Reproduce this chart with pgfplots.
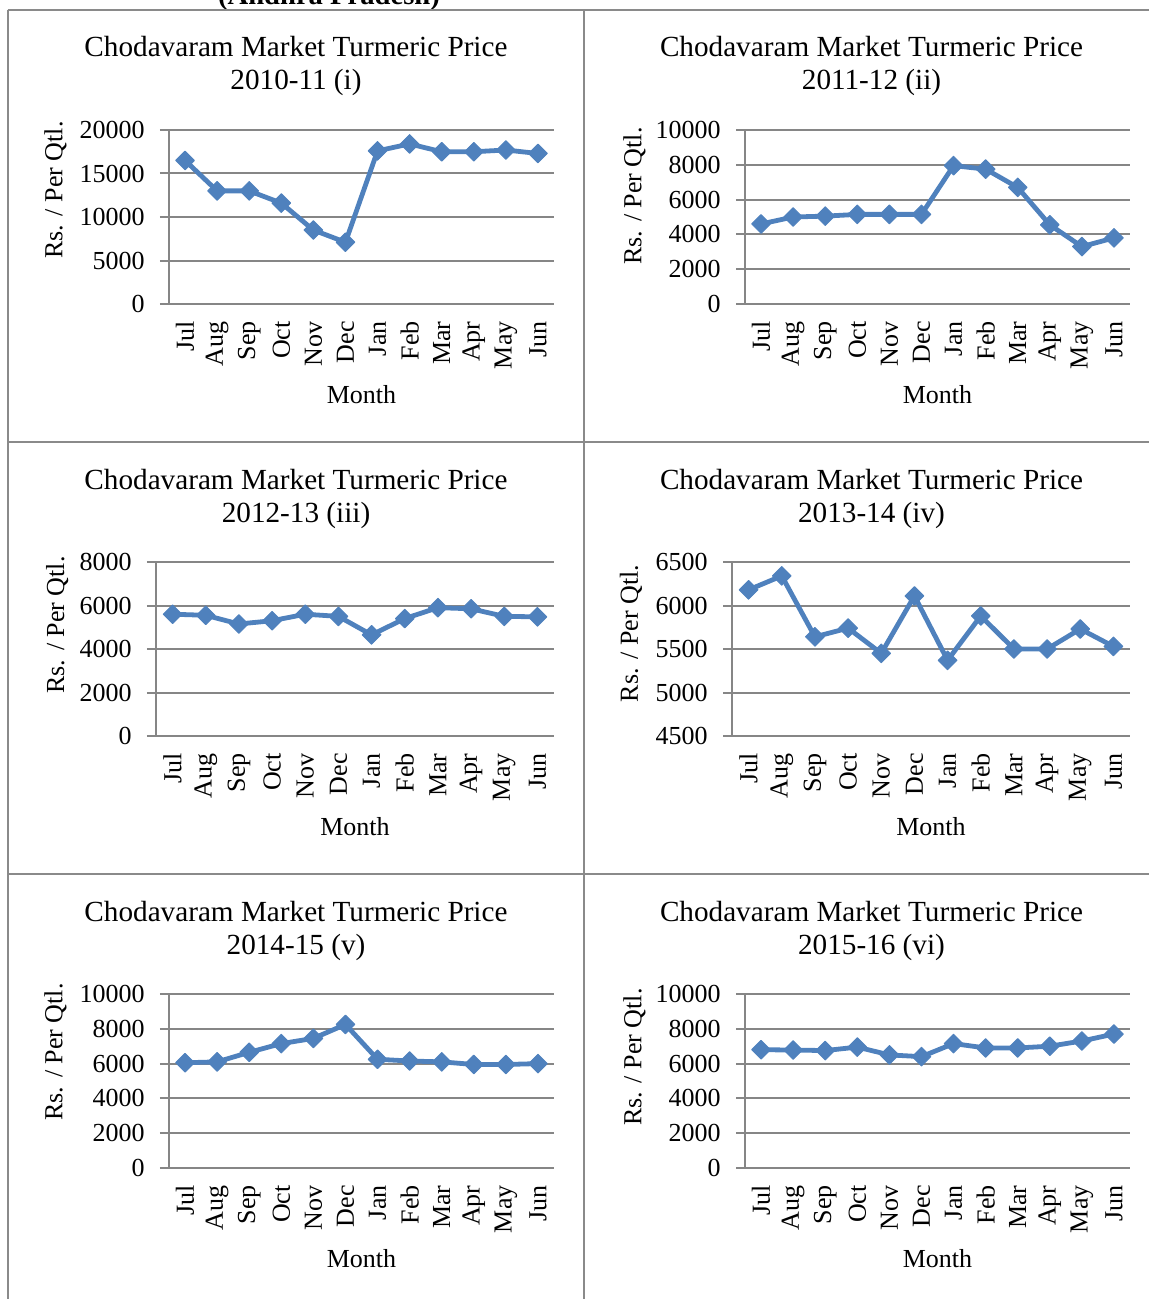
\documentclass[border=0pt]{standalone}
\usepackage{fontspec}
\setmainfont{Liberation Serif}
\usepackage{pgfplots}
\pgfplotsset{compat=1.18}

\definecolor{serieblue}{RGB}{79,129,189}
\definecolor{gridgray}{RGB}{134,134,134}
\definecolor{rulegray}{RGB}{138,138,138}

\newcommand{\titlefont}{\fontsize{14.6}{17}\selectfont}
\newcommand{\labelfont}{\fontsize{13}{15}\selectfont}

\pgfplotsset{
  panel/.style={
    scale only axis,
    height=87pt,
    xmin=-0.5, xmax=11.5,
    xtick={0,...,11},
    xticklabels={Jul,Aug,Sep,Oct,Nov,Dec,Jan,Feb,Mar,Apr,May,Jun},
    axis x line*=bottom, axis y line*=left,
    axis line style={-, draw=gridgray, line width=1pt},
    ymajorgrids,
    grid style={draw=gridgray, line width=1pt},
    tick align=outside, major tick length=4.5pt,
    xtick style={draw=none},
    ytick style={draw=gridgray, line width=1pt},
    tick label style={font=\labelfont, text=black},
    xticklabel style={rotate=90, anchor=east, inner sep=0pt},
    yticklabel style={anchor=east, inner sep=0pt},
    xticklabel shift=4pt,
    yticklabel shift=7.5pt,
    scaled y ticks=false,
    /pgf/number format/assume math mode=true,
    /pgf/number format/1000 sep={},
    xlabel={Month}, ylabel={Rs. / Per Qtl.},
    label style={font=\labelfont},
    xlabel style={at={(axis description cs:0.5,-0.523)}, anchor=center},
    clip=false,
  },
  price/.style={
    serieblue, line width=2.4pt, line join=round,
    mark=square*, mark size=3.3pt,
    mark options={rotate=45, solid, line width=0.5pt, fill=serieblue, draw=serieblue},
  },
}

\begin{document}
\begin{tikzpicture}[x=0.5pt, y=-0.5pt]
\path[use as bounding box] (0,0) rectangle (1149,1299);

% heading above the table, cut by the page edge
\begin{scope}
  \clip (0,0) rectangle (1149,1299);
  \node[anchor=base, inner sep=0pt, font=\fontsize{14.3}{17}\selectfont\bfseries] at (329,4.5) {(Andhra Pradesh)};
\end{scope}

% table rules
\draw[rulegray, line width=1pt] (7.5,10.5) -- (1149,10.5);
\draw[rulegray, line width=1pt] (7.5,441.5) -- (1149,441.5);
\draw[rulegray, line width=1pt] (7.5,873.5) -- (1149,873.5);
\draw[rulegray, line width=1pt] (7.5,10.5) -- (7.5,1299);
\draw[rulegray, line width=1pt] (583.5,10.5) -- (583.5,1299);

% chart titles
\foreach \cx/\ty/\yr in {296/130/{2010-11 (i)}, 871.5/130/{2011-12 (ii)},
                         296/562/{2012-13 (iii)}, 871.5/562/{2013-14 (iv)},
                         296/994/{2014-15 (v)}, 871.5/994/{2015-16 (vi)}}{
  \node[anchor=base, inner sep=0pt, font=\titlefont] at (\cx,\ty-73) {Chodavaram Market Turmeric Price};
  \node[anchor=base, inner sep=0pt, font=\titlefont] at (\cx,\ty-40) {\yr};
}

\coordinate (a1) at (169,304);
\coordinate (a2) at (745,304);
\coordinate (a3) at (156,736);
\coordinate (a4) at (732,736);
\coordinate (a5) at (169,1168);
\coordinate (a6) at (745,1168);

% 2010-11
\begin{axis}[panel, at={(a1)}, anchor=south west, width=192.5pt,
  ymin=0, ymax=20000, ytick={0,5000,...,20000},
  ylabel style={at={(axis description cs:-0.295,0.655)}, anchor=center}]
\addplot[price] coordinates {(0,16500) (1,13000) (2,13000) (3,11600) (4,8500) (5,7100)
  (6,17600) (7,18400) (8,17500) (9,17500) (10,17700) (11,17300)};
\end{axis}

% 2011-12
\begin{axis}[panel, at={(a2)}, anchor=south west, width=192.5pt,
  ymin=0, ymax=10000, ytick={0,2000,...,10000},
  ylabel style={at={(axis description cs:-0.287,0.621)}, anchor=center}]
\addplot[price] coordinates {(0,4600) (1,5000) (2,5050) (3,5150) (4,5150) (5,5150)
  (6,7950) (7,7750) (8,6700) (9,4550) (10,3300) (11,3800)};
\end{axis}

% 2012-13
\begin{axis}[panel, at={(a3)}, anchor=south west, width=199pt,
  ymin=0, ymax=8000, ytick={0,2000,...,8000},
  ylabel style={at={(axis description cs:-0.248,0.638)}, anchor=center}]
\addplot[price] coordinates {(0,5600) (1,5550) (2,5150) (3,5300) (4,5600) (5,5500)
  (6,4650) (7,5400) (8,5900) (9,5850) (10,5500) (11,5480)};
\end{axis}

% 2013-14
\begin{axis}[panel, at={(a4)}, anchor=south west, width=199pt,
  ymin=4500, ymax=6500, ytick={4500,5000,...,6500},
  ylabel style={at={(axis description cs:-0.254,0.589)}, anchor=center}]
\addplot[price] coordinates {(0,6180) (1,6340) (2,5640) (3,5740) (4,5450) (5,6110)
  (6,5370) (7,5880) (8,5500) (9,5500) (10,5730) (11,5530)};
\end{axis}

% 2014-15
\begin{axis}[panel, at={(a5)}, anchor=south west, width=192.5pt,
  ymin=0, ymax=10000, ytick={0,2000,...,10000},
  ylabel style={at={(axis description cs:-0.295,0.667)}, anchor=center}]
\addplot[price] coordinates {(0,6050) (1,6100) (2,6650) (3,7150) (4,7450) (5,8250)
  (6,6250) (7,6150) (8,6100) (9,5950) (10,5950) (11,6000)};
\end{axis}

% 2015-16
\begin{axis}[panel, at={(a6)}, anchor=south west, width=192.5pt,
  ymin=0, ymax=10000, ytick={0,2000,...,10000},
  ylabel style={at={(axis description cs:-0.287,0.638)}, anchor=center}]
\addplot[price] coordinates {(0,6800) (1,6780) (2,6750) (3,6950) (4,6500) (5,6400)
  (6,7150) (7,6900) (8,6900) (9,7000) (10,7300) (11,7700)};
\end{axis}
\end{tikzpicture}
\end{document}
